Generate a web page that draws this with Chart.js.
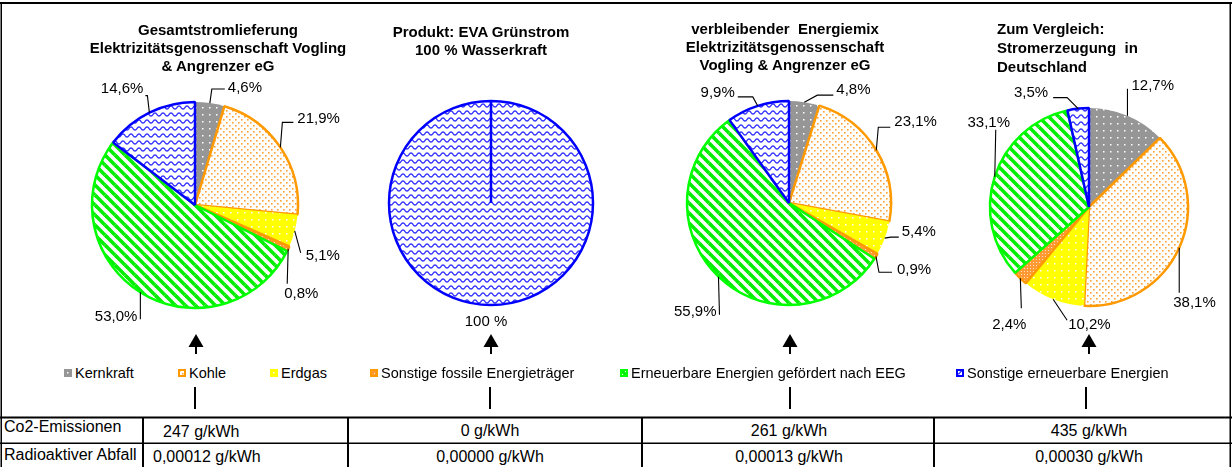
<!DOCTYPE html>
<html>
<head>
<meta charset="utf-8">
<script src="https://cdn.jsdelivr.net/npm/chart.js@4.4.1/dist/chart.umd.min.js"></script>
<style>
  body { margin: 0; background: #fff; }
  #page { position: relative; width: 1232px; height: 467px; overflow: hidden;
          font-family: "Liberation Sans", Arial, sans-serif; color: #000; }
  #frame { position: absolute; left: 0; top: 0; }
  .title { position: absolute; font-weight: bold; font-size: 15px; line-height: 18px; white-space: pre; }
  .pie { position: absolute; width: 300px; height: 300px; }
  .leg { position: absolute; font-size: 14.5px; line-height: 18px; white-space: nowrap; }
  .sw { position: absolute; width: 8px; height: 8px; }
  .cell { position: absolute; font-size: 16px; line-height: 18px; white-space: nowrap; }
</style>
</head>
<body>
<div id="page">
  <svg id="frame" width="1232" height="467"></svg>
</div>
<script>
// ---- data ----
const categories = ['Kernkraft', 'Kohle', 'Erdgas', 'Sonstige fossile Energieträger',
  'Erneuerbare Energien gefördert nach EEG', 'Sonstige erneuerbare Energien'];
const gesamtValues = [4.6, 21.9, 5.1, 0.8, 53.0, 14.6];
const gruenstromValues = [0, 0, 0, 0, 0, 100];
const restmixValues = [4.8, 23.1, 5.4, 0.9, 55.9, 9.9];
const deutschlandValues = [12.7, 38.1, 10.2, 2.4, 33.1, 3.5];
const chartTitles = [
  ['Gesamtstromlieferung', 'Elektrizitätsgenossenschaft Vogling', '& Angrenzer eG'],
  ['Produkt: EVA Grünstrom', '100 % Wasserkraft'],
  ['verbleibender  Energiemix', 'Elektrizitätsgenossenschaft', 'Vogling & Angrenzer eG'],
  ['Zum Vergleich:', 'Stromerzeugung  in', 'Deutschland']
];
const rowLabels = ['Co2-Emissionen', 'Radioaktiver Abfall'];
const co2Values = [247, 0, 261, 435];
const wasteValues = [0.00012, 0.00000, 0.00013, 0.00030];

// ---- look ----
const page = document.getElementById('page');
const svg = document.getElementById('frame');
const FONT = '"Liberation Sans", Arial, sans-serif';

function makePattern(kind) {
  const c = document.createElement('canvas');
  const g = c.getContext('2d');
  if (kind === 'kern' || kind === 'gas') {
    c.width = 7; c.height = 7;
    g.fillStyle = kind === 'kern' ? '#969696' : '#ffff00';
    g.fillRect(0, 0, 7, 7);
    g.fillStyle = '#ffffff';
    g.fillRect(3, 3, 1.5, 1.5);
  } else if (kind === 'kohle') {
    c.width = 6; c.height = 6;
    g.fillStyle = '#ffffff'; g.fillRect(0, 0, 6, 6);
    g.fillStyle = '#ffa033';
    g.fillRect(1, 1, 1.6, 1.6); g.fillRect(4, 4, 1.6, 1.6);
  } else if (kind === 'fossil') {
    c.width = 3; c.height = 3;
    g.fillStyle = '#ff9933'; g.fillRect(0, 0, 3, 3);
    g.fillStyle = '#ffe0c0'; g.fillRect(1, 1, 1, 1);
  } else if (kind === 'eeg') {
    c.width = 10; c.height = 10;
    g.fillStyle = '#ffffff'; g.fillRect(0, 0, 10, 10);
    g.strokeStyle = '#00ee00'; g.lineWidth = 3.6;
    [[0, 0, 10, 10], [0, 10, 10, 20], [0, -10, 10, 0], [-10, 0, 0, 10], [10, 0, 20, 10]].forEach(l => {
      g.beginPath(); g.moveTo(l[0], l[1]); g.lineTo(l[2], l[3]); g.stroke();
    });
  } else if (kind === 'blue') {
    c.width = 8; c.height = 7;
    g.fillStyle = '#ffffff'; g.fillRect(0, 0, 8, 7);
    g.strokeStyle = '#3030ff'; g.lineWidth = 1.3;
    g.beginPath();
    for (let x = -1; x <= 9; x += 0.5) {
      const y = 3.5 + 1.6 * Math.sin(2 * Math.PI * x / 8);
      if (x === -1) g.moveTo(x, y); else g.lineTo(x, y);
    }
    g.stroke();
  }
  return g.createPattern(c, 'repeat');
}

const patternKinds = ['kern', 'kohle', 'gas', 'fossil', 'eeg', 'blue'];
const fills = patternKinds.map(makePattern);
const borderColors = ['#969696', '#ff9900', '#ffff00', '#ff9900', '#00ff00', '#0000ff'];
const borderWidths = [0, 2.5, 0, 2.5, 2.5, 2.5];

function fmtPct(v) {
  return v === 100 ? '100 %' : v.toFixed(1).replace('.', ',') + '%';
}

// leader label plugin: each layout entry = [dx, dy, h, tx, ty, align] relative to the arc's outer mid point
const leaderLabels = {
  id: 'leaderLabels',
  afterDatasetsDraw(chart, args, opts) {
    const ctx = chart.ctx;
    const meta = chart.getDatasetMeta(0);
    const values = chart.data.datasets[0].data;
    ctx.save();
    ctx.font = '15px ' + FONT;
    ctx.fillStyle = '#000';
    ctx.strokeStyle = '#000';
    ctx.lineWidth = 1.1;
    meta.data.forEach((arc, i) => {
      const L = opts.layout[i];
      if (!L || !values[i]) return;
      const p = arc.getProps(['x', 'y', 'startAngle', 'endAngle', 'outerRadius'], true);
      const mid = (p.startAngle + p.endAngle) / 2;
      const ax = p.x + Math.cos(mid) * p.outerRadius;
      const ay = p.y + Math.sin(mid) * p.outerRadius;
      const [dx, dy, h, tx, ty, align] = L;
      if (dx || dy) {
        ctx.beginPath();
        ctx.moveTo(ax, ay);
        ctx.lineTo(ax + dx, ay + dy);
        if (h) ctx.lineTo(ax + dx + h, ay + dy);
        ctx.stroke();
      }
      ctx.textAlign = align;
      ctx.textBaseline = 'middle';
      ctx.fillText(fmtPct(values[i]), ax + tx, ay + ty);
    });
    ctx.restore();
  }
};

const pies = [
  { values: gesamtValues, cx: 195, cy: 205, r: 103, layout: [
      [2, -14, 13, 18, -15, 'left'],
      [2, -25, 11, 17, -29, 'left'],
      [6, 22, 0, 11, 25, 'left'],
      [-1, 35, 0, -4, 45, 'left'],
      [0, 27, 0, -3, 25, 'right'],
      [-2, -17, -2, -6, -24, 'right']] },
  { values: gruenstromValues, cx: 491, cy: 203, r: 102, layout: [
      null, null, null, null, null,
      [0, 0, 0, -5, 17, 'center']] },
  { values: restmixValues, cx: 789, cy: 203, r: 102, layout: [
      [13, -7, 16, 32, -12, 'left'],
      [2, -23, 12, 18, -28, 'left'],
      [6, -1, 8, 17, -6, 'left'],
      [3, 16, 13, 21, 14, 'left'],
      [1, 38, 0, -2, 35, 'right'],
      [-5, -9, -15, -23, -13, 'right']] },
  { values: deutschlandValues, cx: 1089, cy: 207, r: 99, layout: [
      [0, -27, 0, 4, -30, 'left'],
      [0, 45, 0, -6, 55, 'left'],
      [14, 21, 0, 15, 26, 'left'],
      [1, 30, 0, -11, 47, 'center'],
      [1, -47, 0, -6, -54, 'center'],
      [-11, -11, -14, -30, -16, 'right']] }
];

pies.forEach((p, k) => {
  const cv = document.createElement('canvas');
  cv.className = 'pie';
  cv.style.left = (p.cx - 150) + 'px';
  cv.style.top = (p.cy - 150) + 'px';
  page.appendChild(cv);
  new Chart(cv, {
    type: 'pie',
    data: {
      labels: categories,
      datasets: [{
        data: p.values,
        backgroundColor: fills,
        borderColor: borderColors,
        borderWidth: borderWidths,
        borderAlign: 'center',
        radius: p.r
      }]
    },
    options: {
      responsive: false,
      animation: false,
      events: [],
      layout: { padding: 0 },
      plugins: {
        legend: { display: false },
        tooltip: { enabled: false },
        leaderLabels: { layout: p.layout }
      }
    },
    plugins: [leaderLabels]
  });
});

// titles
const titlePos = [
  { x: 218, y: 21, align: 'center' },
  { x: 481, y: 23, align: 'center' },
  { x: 785, y: 20, align: 'center' },
  { x: 997, y: 19, align: 'left' }
];
chartTitles.forEach((lines, k) => {
  const d = document.createElement('div');
  d.className = 'title';
  const t = titlePos[k];
  d.style.top = t.y + 'px';
  d.style.textAlign = t.align;
  if (t.align === 'center') { d.style.left = (t.x - 200) + 'px'; d.style.width = '400px'; }
  else { d.style.left = t.x + 'px'; d.style.lineHeight = '19px'; }
  d.textContent = lines.join('\n');
  page.appendChild(d);
});

// legend
const legendX = [64, 178, 270, 370, 620, 956];
categories.forEach((name, i) => {
  const sw = document.createElement('canvas');
  sw.className = 'sw'; sw.width = 8; sw.height = 8;
  sw.style.left = legendX[i] + 'px'; sw.style.top = '369px';
  const g = sw.getContext('2d');
  g.fillStyle = fills[i]; g.fillRect(0, 0, 8, 8);
  if (borderWidths[i]) {
    g.strokeStyle = borderColors[i]; g.lineWidth = 2; g.strokeRect(1, 1, 6, 6);
  }
  page.appendChild(sw);
  const t = document.createElement('div');
  t.className = 'leg';
  t.style.left = (legendX[i] + 11) + 'px'; t.style.top = '364px';
  t.textContent = name;
  page.appendChild(t);
});

// table texts
function cell(text, x, y, align) {
  const d = document.createElement('div');
  d.className = 'cell';
  d.textContent = text;
  d.style.top = (y - 9) + 'px';
  if (align === 'center') { d.style.left = (x - 100) + 'px'; d.style.width = '200px'; d.style.textAlign = 'center'; }
  else d.style.left = x + 'px';
  page.appendChild(d);
}
cell(rowLabels[0], 4, 427, 'left');
cell(rowLabels[1], 4, 455, 'left');
const colX = [null, 490, 789, 1089];
co2Values.forEach((v, k) => {
  const txt = v + ' g/kWh';
  if (k === 0) cell(txt, 163, 432, 'left'); else cell(txt, colX[k], 431, 'center');
});
wasteValues.forEach((v, k) => {
  const txt = v.toFixed(5).replace('.', ',') + ' g/kWh';
  if (k === 0) cell(txt, 153, 457, 'left'); else cell(txt, colX[k], 457, 'center');
});

// frame, table grid, arrows
const NS = 'http://www.w3.org/2000/svg';
function el(tag, attrs) {
  const e = document.createElementNS(NS, tag);
  for (const a in attrs) e.setAttribute(a, attrs[a]);
  svg.appendChild(e);
}
el('rect', { x: 0, y: 2, width: 1232, height: 2, fill: '#000' });
el('rect', { x: 0.5, y: 3, width: 1.5, height: 464, fill: '#000' });
el('rect', { x: 1229.5, y: 3, width: 1.5, height: 464, fill: '#000' });
el('rect', { x: 0, y: 416.5, width: 1232, height: 2, fill: '#000' });
el('rect', { x: 0, y: 442.5, width: 1232, height: 1.5, fill: '#000' });
[142, 347, 641, 933].forEach(x => el('rect', { x: x, y: 417, width: 2, height: 50, fill: '#000' }));
[[196, 195], [491, 490], [790, 790], [1089, 1086]].forEach(([a, b]) => {
  el('polygon', { points: `${a - 7.5},347 ${a},334 ${a + 7.5},347`, fill: '#000' });
  el('rect', { x: a - 1, y: 346, width: 2, height: 8, fill: '#000' });
  el('rect', { x: b - 1, y: 387, width: 2, height: 22, fill: '#000' });
});
</script>
</body>
</html>
